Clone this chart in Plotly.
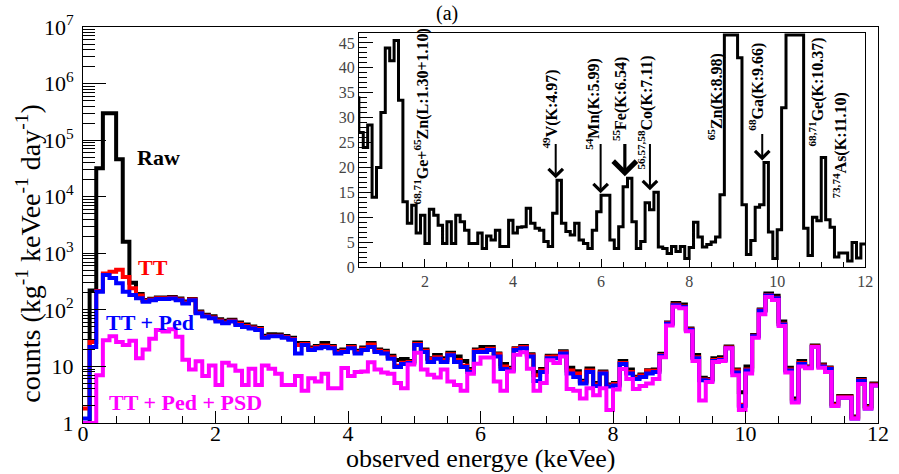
import plotly.graph_objects as go

# ---------------- data (counts per 0.1 keVee bin) ----------------
BIN_WIDTH = 0.1
N_BINS = 120
bin_edges = [round(i * BIN_WIDTH, 1) for i in range(N_BINS + 1)]

raw = [1, 220, 32000, 300000, 300000, 46000, 1600, 300, 190, 150,
       157, 165, 165, 168, 158, 140, 156, 94, 82, 77,
       68, 64, 67, 60, 55, 51, 48, 35, 37, 36.5,
       34.5, 32, 26, 26, 21.5, 23, 26, 23, 19, 20,
       23, 19, 21.5, 26, 20, 19, 15.5, 13, 13.5, 12.5,
       26.5, 20, 14, 16, 14, 17.5, 15, 12.5, 9, 20,
       22, 22, 17, 11, 9.5, 21, 23, 16.5, 8, 9,
       15.5, 15.5, 18.5, 9.5, 8.2, 5.6, 9.2, 5.1, 8.1, 4.8,
       5.1, 12.5, 8.8, 6.6, 7.2, 8.6, 8.8, 16.8, 60, 132,
       124, 47, 16, 6.3, 6, 14, 14.5, 22.5, 8.8, 3.5,
       10, 36, 101, 195, 178, 62, 9.5, 2.7, 12.5, 10,
       23.5, 10.8, 9.6, 2.2, 3, 3, 1.3, 6, 2, 5]

tt = [1.8, 27, 215, 440, 470, 510, 380, 240, 180, 145,
      152, 160, 160, 163, 153, 135, 152, 90, 79, 73,
      65, 60, 64, 57, 52, 49, 46, 33, 35, 35,
      33, 30.5, 24, 25, 20.5, 22, 23.5, 22, 18, 19,
      22, 18, 20.5, 24.5, 19, 18, 14.5, 10.3, 11.6, 12,
      25, 19, 13.5, 14.5, 13, 16.5, 13, 10.3, 8.5, 19,
      19.5, 20.5, 16.5, 10, 9, 20.5, 22, 15.8, 7, 8.5,
      14.8, 15, 17.8, 8.5, 7.5, 5.3, 8.5, 4.8, 7.8, 4.6,
      4.9, 11.5, 8, 6.3, 6.9, 8.4, 8.4, 16, 58, 124,
      115, 45, 14.5, 5.9, 5.8, 13, 13.5, 21.5, 8.5, 2.1,
      8.8, 35, 98, 184, 164, 57, 8.8, 2.5, 11.5, 9.8,
      22.5, 10.4, 9.3, 2.1, 2.9, 2.9, 1.25, 5.7, 1.9, 4.8]

tt_ped = [1.2, 22, 210, 415, 365, 295, 210, 183, 160, 139,
          148, 155, 155, 158, 148, 130, 148, 87, 76, 71,
          62, 58, 62, 54, 50, 47, 44, 32, 34, 34,
          32, 29.5, 17, 24, 19.6, 21, 22, 21, 17, 18,
          21, 17, 19.6, 22, 18, 17, 13.7, 9.8, 11, 11.5,
          24, 18, 12, 13.7, 12, 15.8, 12, 9.8, 8, 18,
          18, 19.6, 15, 9, 8.5, 19.6, 21, 15, 5.5, 8,
          14, 14, 17, 7.5, 6.5, 5, 8, 4.5, 7.5, 4.4,
          4.6, 11, 7.5, 6, 6.5, 7.5, 8, 15.5, 57, 121,
          112, 44, 14, 5.7, 5.6, 12.5, 13, 21, 7.8, 2.0,
          8.5, 34, 96, 180, 160, 55, 8.5, 2.4, 11, 9.5,
          22, 10, 9, 2.0, 2.8, 2.8, 1.2, 5.5, 1.8, 4.6]

tt_ped_psd = [1, 1, 7, 29, 34, 27, 24, 28.5, 14, 20,
              31, 44, 41.4, 45.5, 33.5, 13.1, 8.8, 12.4, 6.8, 10.4,
              4.7, 11.6, 10.4, 8.4, 4.7, 9.1, 4.7, 10.4, 9.1, 7.4,
              4.7, 4.7, 6.8, 3.7, 6.2, 5.4, 7.4, 4.1, 4.1, 9.4,
              6.8, 8.0, 8.1, 11.8, 8.8, 7.8, 7.4, 5.1, 4.1, 10.8,
              17.4, 8.8, 7.1, 6.4, 8.8, 5.4, 4.7, 3.7, 7.4, 11.1,
              14.4, 14.4, 5.4, 3.7, 8.1, 16.1, 17.8, 9.1, 3.7, 5.1,
              12.9, 11.5, 15.0, 4.0, 3.7, 2.7, 4.1, 3.1, 4.1, 1.7,
              3.9, 9.0, 6.0, 4.0, 4.5, 5.0, 6.0, 14.5, 53, 114,
              107, 42, 12.5, 2.5, 5.3, 12, 12.5, 21, 7, 1.7,
              7.5, 32, 84, 168, 150, 52, 7.8, 2.3, 10, 9.3,
              22, 9.5, 8, 2, 2.8, 2.8, 1.2, 4.9, 1.8, 4.6]

series_names = ["Raw", "TT", "TT + Ped", "TT + Ped + PSD"]
series_values = [raw, tt, tt_ped, tt_ped_psd]
series_colors = ["black", "red", "blue", "magenta"]

# inset labels: (text, x centre keV, y centre counts)
inset_labels = [
    ("<sup>68,71</sup>Ge+<sup>65</sup>Zn(L:1.30+1.10)", 1.93, 30.2),
    ("<sup>49</sup>V(K:4.97)", 4.86, 31.8),
    ("<sup>54</sup>Mn(K:5.99)", 5.81, 32.7),
    ("<sup>55</sup>Fe(K:6.54)", 6.44, 33.8),
    ("<sup>56,57,58</sup>Co(K:7.11)", 7.02, 31.0),
    ("<sup>65</sup>Zn(K:8.98)", 8.60, 34.2),
    ("<sup>68</sup>Ga(K:9.66)", 9.54, 36.2),
    ("<sup>68,71</sup>Ge(K:10.37)", 10.90, 35.2),
    ("<sup>73,74</sup>As(K:11.10)", 11.44, 24.5),
]
# arrows: (line energy keV, tail height)
arrow_lines = [(4.97, 25), (5.99, 25), (6.54, 25), (7.11, 25), (9.66, 27)]

main_labels = [("Raw", 1.146, 4.70, "black"), ("TT", 1.06, 2.74, "red"),
               ("TT + Ped", 1.01, 1.78, "blue"), ("TT + Ped + PSD", 1.55, 0.37, "magenta")]

y_tick_vals = [1, 10, 100, 1e3, 1e4, 1e5, 1e6, 1e7]
y_tick_text = ["1", "10", "10<sup>2</sup>", "10<sup>3</sup>", "10<sup>4</sup>",
               "10<sup>5</sup>", "10<sup>6</sup>", "10<sup>7</sup>"]

SERIF = "Liberation Serif"
INSET_MAX = 47

fig = go.Figure()
for name, vals, col in zip(series_names, series_values, series_colors):
    fig.add_trace(go.Scatter(x=bin_edges, y=vals + [vals[-1]], mode="lines", name=name,
                             line=dict(color=col, width=4, shape="hv"),
                             xaxis="x", yaxis="y", showlegend=False, hoverinfo="skip"))

# inset: linear view of the final spectrum (clipped at the frame top like ROOT)
inset_vals = [min(v, INSET_MAX - 0.4) for v in tt_ped_psd]
fig.add_trace(go.Scatter(x=bin_edges, y=inset_vals + [inset_vals[-1]], mode="lines",
                         line=dict(color="black", width=3, shape="hv"),
                         xaxis="x2", yaxis="y2", showlegend=False, hoverinfo="skip"))

annotations = []
for text, x, y, col in main_labels:
    annotations.append(dict(text="<b>%s</b>" % text, x=x, y=y, xref="x", yref="y",
                            showarrow=False, font=dict(family=SERIF, size=22, color=col)))

for text, x, y in inset_labels:
    annotations.append(dict(text="<b>%s</b>" % text, x=x, y=y, xref="x2", yref="y2",
                            showarrow=False, textangle=-90,
                            font=dict(family=SERIF, size=16, color="black")))

for e, tail in arrow_lines:
    i = int(e / BIN_WIDTH)
    tip = max(tt_ped_psd[i - 1:i + 2]) + 0.4
    annotations.append(dict(text="", x=e, y=tip, xref="x2", yref="y2",
                            ax=e, ay=tail, axref="x2", ayref="y2", showarrow=True,
                            arrowhead=4, arrowsize=1.4, arrowwidth=3.2 if e == 6.54 else 2,
                            arrowcolor="black"))

annotations.append(dict(text="counts (kg<sup>-1</sup> keVee<sup>-1</sup> day<sup>-1</sup>)",
                        x=-0.068, y=0.43, xref="paper", yref="paper", textangle=-90,
                        showarrow=False, xanchor="center", yanchor="middle",
                        font=dict(family=SERIF, size=28, color="black")))
annotations.append(dict(text="observed energye (keVee)", x=0.5, y=-0.09, xref="paper",
                        yref="paper", showarrow=False, xanchor="center", yanchor="middle",
                        font=dict(family=SERIF, size=26, color="black")))
annotations.append(dict(text="(a)", x=0.458, y=1.035, xref="paper", yref="paper",
                        showarrow=False, xanchor="center", yanchor="middle",
                        font=dict(family=SERIF, size=20, color="black")))

axis_common = dict(showgrid=False, zeroline=False, showline=True, linecolor="black",
                   linewidth=1, mirror=True, ticks="inside", tickcolor="black", tickwidth=1)

fig.update_layout(
    width=899, height=474,
    margin=dict(l=83, r=10, t=27, b=51),
    paper_bgcolor="white", plot_bgcolor="white",
    xaxis=dict(domain=[0, 1], range=[0, 12], tick0=0, dtick=2, ticklen=12,
               ticklabelstandoff=-9,
               minor=dict(ticks="inside", ticklen=7, dtick=0.5, tickcolor="black", showgrid=False),
               tickfont=dict(family=SERIF, size=22, color="black"), anchor="y", **axis_common),
    yaxis=dict(domain=[0, 1], type="log", range=[0, 7], tickmode="array",
               tickvals=y_tick_vals, ticktext=y_tick_text, ticklen=23, ticklabelstandoff=4,
               minor=dict(ticks="inside", ticklen=12, tickcolor="black", showgrid=False,
                          tickmode="array",
                          tickvals=[k * 10 ** d for d in range(7) for k in range(2, 10)]),
               tickfont=dict(family=SERIF, size=22, color="black"), anchor="x", **axis_common),
    xaxis2=dict(domain=[0.347, 0.984], range=[0.5, 12], tick0=0, dtick=2, ticklen=8,
                minor=dict(ticks="inside", ticklen=5, dtick=0.5, tickcolor="black", showgrid=False),
                tickfont=dict(family=SERIF, size=16, color="#444"), anchor="y2", **axis_common),
    yaxis2=dict(domain=[0.394, 0.985], range=[0, INSET_MAX], tick0=0, dtick=5, ticklen=14,
                minor=dict(ticks="inside", ticklen=8, dtick=1, tickcolor="black", showgrid=False),
                tickfont=dict(family=SERIF, size=16, color="#444"), anchor="x2", **axis_common),
    annotations=annotations,
)

fig.write_html("out.html", config={"displayModeBar": False},
               post_script="document.body.style.margin='0px';")
